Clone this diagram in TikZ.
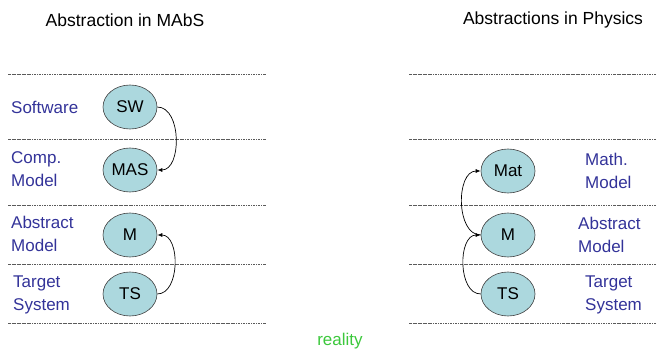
\documentclass[tikz,border=0pt]{standalone}
\usepackage{fontspec}
\setmainfont{Liberation Sans}
\usetikzlibrary{shapes.geometric,arrows.meta}
\definecolor{nodefill}{RGB}{172,216,222}
\definecolor{labelblue}{RGB}{51,51,153}
\definecolor{realgreen}{RGB}{60,200,60}
\definecolor{linegray}{RGB}{90,90,90}
\tikzset{
  layerline/.style={draw=linegray, line width=0.6pt, dash pattern=on 2.5pt off 1pt on 0.6pt off 1pt},
  absnode/.style={ellipse, draw=black!75, line width=0.6pt, fill=nodefill, minimum width=54pt, minimum height=44pt, inner sep=0pt, font=\fontsize{17}{20}\selectfont},
  lbl/.style={anchor=west, align=left, text=labelblue, font=\fontsize{17}{23}\selectfont, inner sep=0pt},
  ttl/.style={font=\fontsize{17.5}{21}\selectfont, inner sep=0pt},
  conn/.style={draw=black, line width=0.7pt, -{Latex[length=5pt,width=4pt]}}
}
\begin{document}
\begin{tikzpicture}[x=1pt,y=-1pt]
\useasboundingbox (0,0) rectangle (660,352);
% titles
\node[ttl] (t1) at (125,20) {Abstraction in MAbS};
\node[ttl] (t2) at (553,20) {Abstractions in Physics};
% layer lines
\foreach \y [count=\i] in {74,139,205,264,323} {
  \coordinate (la\i) at (8,\y);
  \coordinate (lb\i) at (266,\y);
  \coordinate (ra\i) at (409,\y);
  \coordinate (rb\i) at (657,\y);
  \draw[layerline] (la\i) -- (lb\i);
  \draw[layerline] (ra\i) -- (rb\i);
}
% left nodes
\node[absnode] (sw) at (130,107) {SW};
\node[absnode] (mas) at (130,170) {MAS};
\node[absnode] (ml) at (130,235) {M};
\node[absnode] (tsl) at (130,294) {TS};
% right nodes
\node[absnode] (mat) at (508,171) {Mat};
\node[absnode] (mr) at (508,235) {M};
\node[absnode] (tsr) at (508,294) {TS};
% left labels
\node[lbl] (l1) at (11,107) {Software};
\node[lbl] (l2) at (11,169) {Comp.\\Model};
\node[lbl] (l3) at (11,234) {Abstract\\Model};
\node[lbl] (l4) at (13,295) {Target\\System};
% right labels
\node[lbl] (r1) at (585,171) {Math.\\Model};
\node[lbl] (r2) at (578,235) {Abstract\\Model};
\node[lbl] (r3) at (585,295) {Target\\System};
% reality
\node[text=realgreen, font=\fontsize{17}{20}\selectfont, inner sep=0pt] (real) at (340,341) {reality};
% connectors
\draw[conn] (sw.east) to[out=0,in=0] (mas.east);
\draw[conn] (tsl.east) to[out=0,in=0] (ml.east);
\draw[conn] (tsr.west) to[out=180,in=180] (mr.west);
\draw[conn] (mr.west) to[out=180,in=180] (mat.west);
\end{tikzpicture}
\end{document}
